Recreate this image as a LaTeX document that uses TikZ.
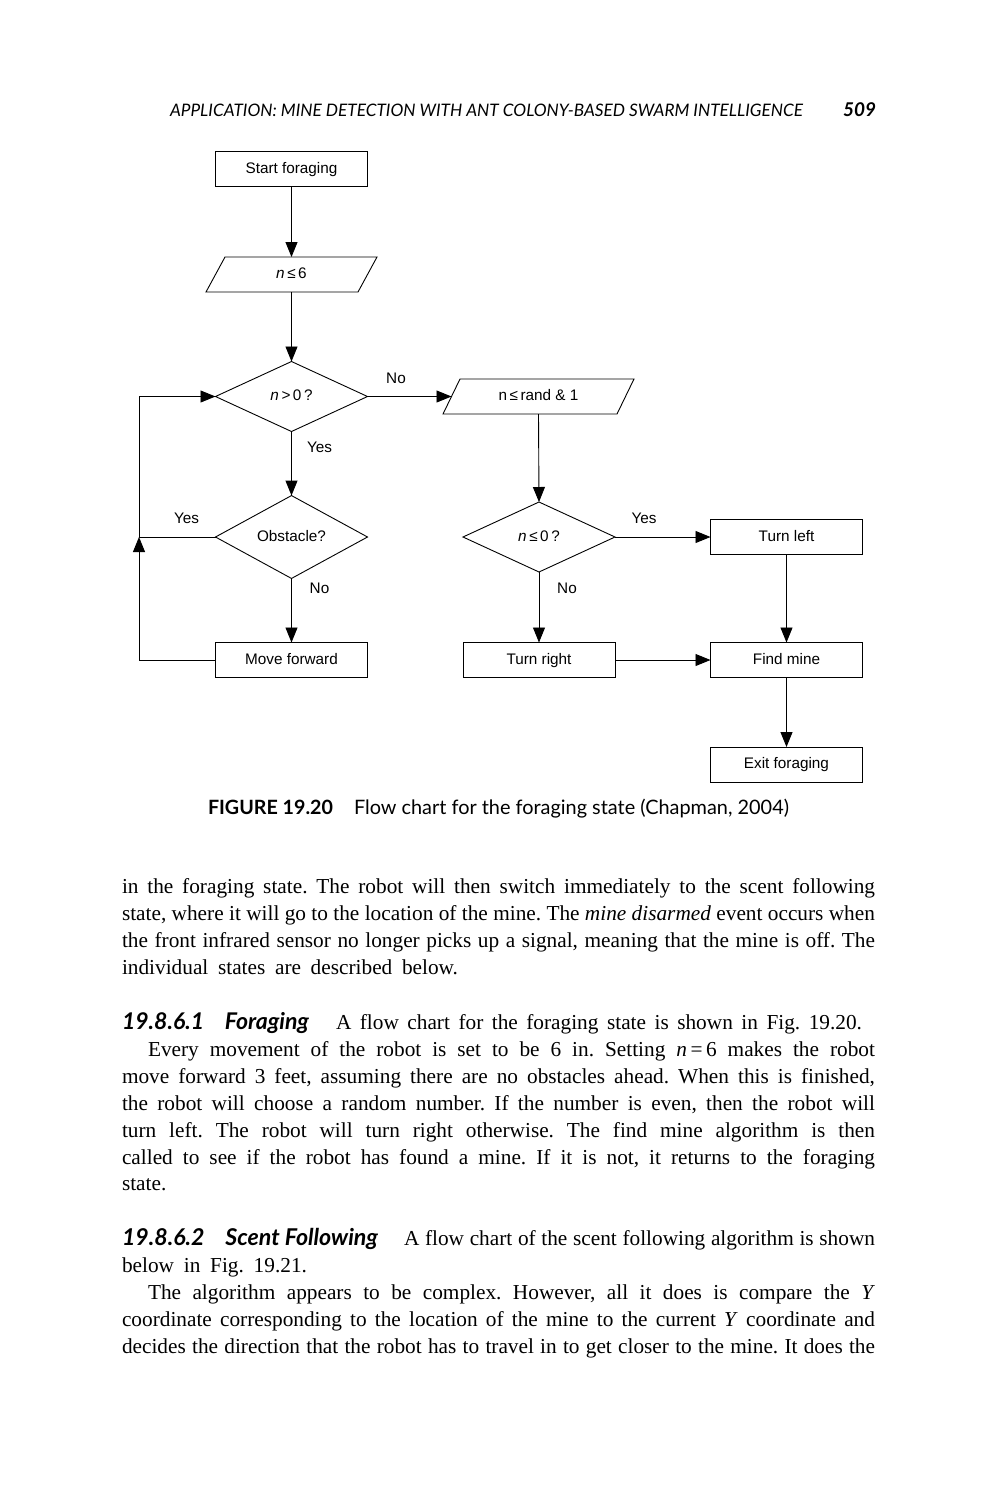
\documentclass[tikz,border=0pt]{standalone}
\usepackage{fontspec}
\usepackage{graphicx}
\setmainfont{Liberation Serif}
\setsansfont{Liberation Sans}
\newfontfamily\latofont{Lato}
\usetikzlibrary{arrows.meta,shapes.geometric}
\newcommand\bodyfont{\fontsize{21.3}{27}\selectfont\frenchspacing\spaceskip=.25em plus 1em minus .1em\xspaceskip=\spaceskip}
\newcommand\flowfont{\sffamily\fontsize{15.3}{17}\selectfont}
\newcommand\jw[2]{\makebox[#1pt][s]{#2}}
\begin{document}
\begin{tikzpicture}[x=1pt,y=-1pt,
  every node/.style={inner sep=0pt, outer sep=0pt},
  ftext/.style={font=\flowfont, text height=11pt, text depth=3pt},
  fbox/.style={ftext, draw, line width=0.9pt, minimum width=152pt, minimum height=35pt},
  fdec/.style={ftext, draw, diamond, line width=0.9pt, minimum width=152pt, minimum height=70pt},
  fpara/.style={ftext, minimum height=35pt},
  pline/.style={line width=0.9pt, line join=miter},
  lbl/.style={ftext},
  arr/.style={line width=0.9pt, -{Triangle[length=15pt,width=12pt]}},
  body/.style={anchor=base west, font=\bodyfont},
  head/.style={anchor=base west}]
\useasboundingbox (0,0) rectangle (993,1500);

% running header
\node[head] (hdr) at (170,116) {\resizebox{633pt}{!}{\latofont\itshape\fontsize{16.7}{18}\selectfont APPLICATION: MINE DETECTION WITH ANT COLONY-BASED SWARM INTELLIGENCE}};
\node[head] (pgno) at (843,116) {\resizebox{33pt}{!}{\latofont\bfseries\itshape\fontsize{22}{24}\selectfont 509}};

% flow chart
\node[fbox] (start) at (291.5,169) {Start foraging};
\node[fpara, minimum width=152pt] (p1) at (291.5,274.5) {\textit{n}\,≤\,6};
\draw[pline] ([xshift=-9.5pt]p1.south west) -- ([xshift=-9.5pt]p1.south east) -- ([xshift=9.5pt]p1.north east) -- ([xshift=9.5pt]p1.north west) -- cycle;
\node[fdec] (d1) at (291.5,396.5) {\textit{n}\,>\,0\,?};
\node[fpara, minimum width=174pt] (p2) at (538.5,396.5) {n\,≤\,rand \& 1};
\draw[pline] ([xshift=-8.5pt]p2.south west) -- ([xshift=-8.5pt]p2.south east) -- ([xshift=8.5pt]p2.north east) -- ([xshift=8.5pt]p2.north west) -- cycle;
\node[fdec] (d2) at (539,537) {\textit{n}\,≤\,0\,?};
\node[fbox] (tl) at (786.5,537) {Turn left};
\node[fdec] (obst) at (291.5,537) {Obstacle?};
\node[fbox] (mf) at (291.5,660) {Move forward};
\node[fbox] (tr) at (539,660) {Turn right};
\node[fbox] (fm) at (786.5,660) {Find mine};
\node[fbox] (ex) at (786.5,764.5) {Exit foraging};
\coordinate (lj) at (139,537);

\draw[arr] (start.south) -- (p1.north);
\draw[arr] (p1.south) -- (d1.north);
\draw[arr] (d1.east) -- (p2.west);
\draw[arr] (d1.south) -- (obst.north);
\draw[arr] (p2.south) -- (d2.north);
\draw[arr] (d2.east) -- (tl.west);
\draw[arr] (d2.south) -- (tr.north);
\draw[arr] (obst.south) -- (mf.north);
\draw[arr] (tr.east) -- (fm.west);
\draw[arr] (tl.south) -- (fm.north);
\draw[arr] (fm.south) -- (ex.north);
\draw[arr] (obst.west) -- (lj) |- (d1.west);
\draw[arr] (mf.west) -| (lj);

\node[lbl] (lno1) at (396,379) {No};
\node[lbl] (lyes1) at (319.5,448.5) {Yes};
\node[lbl] (lyes2) at (186.5,519.5) {Yes};
\node[lbl] (lno2) at (319.5,589.5) {No};
\node[lbl] (lyes3) at (644,519.5) {Yes};
\node[lbl] (lno3) at (567,589.5) {No};

% caption
\node[head] (capa) at (208,814) {\resizebox{125pt}{!}{\latofont\bfseries\fontsize{18.5}{20}\selectfont FIGURE 19.20}};
\node[head] (capb) at (354,814) {\resizebox{435pt}{!}{\latofont\fontsize{18.5}{20}\selectfont Flow chart for the foraging state (Chapman, 2004)}};

% body text
\node[body] (b1) at (122,893) {\jw{753}{in the foraging state. The robot will then switch immediately to the scent following}};
\node[body] (b2) at (122,920) {\jw{753}{state, where it will go to the location of the mine. The \textit{mine disarmed} event occurs when}};
\node[body] (b3) at (122,947) {\jw{753}{the front infrared sensor no longer picks up a signal, meaning that the mine is off. The}};
\node[body] (b4) at (122,974) {\jw{336}{individual states are described below.}};

\node[head] (h1) at (122,1029) {\resizebox{187pt}{!}{\latofont\bfseries\itshape\fontsize{20}{22}\selectfont 19.8.6.1\hspace{0.9em}Foraging}};
\node[body] (c0) at (336,1029) {\jw{526}{A flow chart for the foraging state is shown in Fig. 19.20.}};
\node[body] (c1) at (148,1056) {\jw{727}{Every movement of the robot is set to be 6 in. Setting \textit{n}\,=\,6 makes the robot}};
\node[body] (c2) at (122,1083) {\jw{753}{move forward 3 feet, assuming there are no obstacles ahead. When this is finished,}};
\node[body] (c3) at (122,1110) {\jw{753}{the robot will choose a random number. If the number is even, then the robot will}};
\node[body] (c4) at (122,1137) {\jw{753}{turn left. The robot will turn right otherwise. The find mine algorithm is then}};
\node[body] (c5) at (122,1164) {\jw{753}{called to see if the robot has found a mine. If it is not, it returns to the foraging}};
\node[body] (c6) at (122,1190) {state.};

\node[head] (h2) at (122,1245) {\resizebox{256pt}{!}{\latofont\bfseries\itshape\fontsize{20}{22}\selectfont 19.8.6.2\hspace{0.9em}Scent Following}};
\node[body] (d0) at (404,1245) {\jw{471}{A flow chart of the scent following algorithm is shown}};
\node[body] (e1) at (122,1272) {\jw{185}{below in Fig. 19.21.}};
\node[body] (e2) at (148,1299) {\jw{727}{The algorithm appears to be complex. However, all it does is compare the \textit{Y}}};
\node[body] (e3) at (122,1326) {\jw{753}{coordinate corresponding to the location of the mine to the current \textit{Y} coordinate and}};
\node[body] (e4) at (122,1353) {\jw{753}{decides the direction that the robot has to travel in to get closer to the mine. It does the}};
\end{tikzpicture}
\end{document}
